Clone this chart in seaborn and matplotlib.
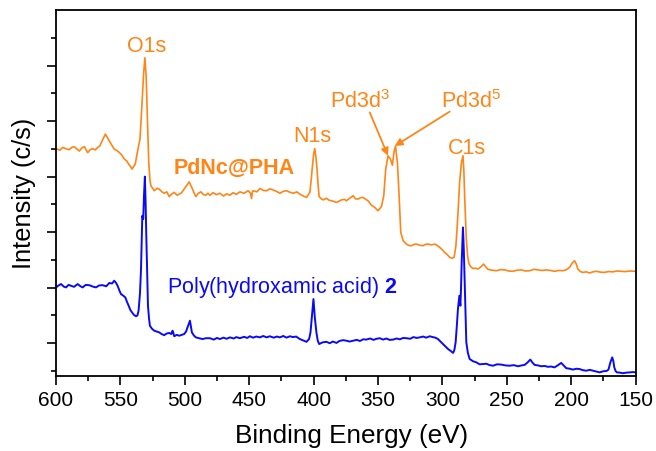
import numpy as np
import pandas as pd
import matplotlib
matplotlib.use("Agg")
import matplotlib.pyplot as plt
import seaborn as sns
from matplotlib.ticker import MultipleLocator

# ---------------- data ----------------
pha_pd_energy = [600, 597, 594.8, 592, 589.7, 587.5, 585.8, 583.5, 581.9, 580, 578, 576.5, 575.4, 573.5,
                 571.5, 569.5, 567.7, 566, 565.1, 563, 561.7, 560, 558.6, 556.5, 554.8, 552.5, 550.9, 549,
                 547, 545, 543.6, 542, 541, 539.5, 538.5, 537.5, 536.6, 534.8, 533.5, 532, 531, 530, 529,
                 528, 527, 526.3, 524.5, 523.7, 521.5, 519.9, 518, 516, 514, 512.1, 510, 508.2, 506, 504.3,
                 502.5, 500.5, 498.5, 496.6, 494, 492.5, 491.4, 489.5, 487.5, 485.5, 483.6, 482, 480.5, 478,
                 475.5, 472.8, 470, 467.5, 465, 462.5, 460, 457.2, 454, 450.8, 449, 448.2, 447.5, 446.9, 444,
                 441.7, 439, 436.5, 434, 431.4, 428.5, 426.2, 423.5, 421, 418.5, 415.9, 413, 410.7, 408,
                 405.5, 402.9, 401.8, 401.1, 400, 399.1, 398.2, 397.3, 396.5, 395.7, 394, 392.6, 390, 388,
                 386.1, 384, 382.2, 380, 378.3, 376, 374.5, 372, 369.3, 367.5, 365.5, 363.5, 361.6, 359.5,
                 357.7, 355.1, 352.5, 350, 348.5, 347.3, 345.5, 344, 342.2, 340.3, 338.8, 337.5, 336.4, 334.9,
                 333.6, 332.3, 330.5, 327.9, 326, 324, 322, 320.2, 317.5, 315, 313, 311.1, 308.5, 305.9, 304,
                 302, 300, 298.2, 296, 294.3, 292.5, 290.9, 289.5, 288.6, 287.5, 286.6, 285.2, 284, 283.3,
                 282.7, 281.4, 280.3, 279.3, 277.8, 276.2, 274.2, 272.4, 270, 268, 266.3, 264.6, 261.5, 258.1,
                 255, 251.6, 248.5, 245.2, 242, 238.7, 235.5, 232.2, 229, 225.8, 222.5, 219.3, 216, 212.9,
                 209.5, 206.4, 203.5, 201.2, 199.3, 197.4, 196, 194.8, 192.8, 190.9, 188.3, 185.7, 183, 180.5,
                 177.3, 174.1, 171, 167.6, 164.5, 161.1, 158, 154.5, 150]
pha_pd_intensity = [8.01, 7.95, 8.05, 8.0, 7.97, 8.06, 8.07, 7.98, 7.92, 8.03, 8.08, 7.95, 7.86, 7.97,
                    8.01, 7.96, 8.05, 8.1, 8.2, 8.4, 8.53, 8.4, 8.28, 8.12, 7.99, 7.93, 7.87, 7.78,
                    7.63, 7.56, 7.45, 7.35, 7.27, 7.38, 7.45, 7.7, 7.93, 8.35, 9.4, 10.7, 11.28, 10.6, 9.0,
                    7.5, 6.85, 6.67, 6.55, 6.49, 6.58, 6.55, 6.46, 6.40, 6.45, 6.28, 6.38, 6.43, 6.33, 6.37,
                    6.42, 6.55, 6.68, 6.81, 6.55, 6.38, 6.28, 6.4, 6.45, 6.35, 6.33, 6.4, 6.33, 6.42,
                    6.35, 6.40, 6.3, 6.38, 6.33, 6.42, 6.36, 6.45, 6.4, 6.49, 6.4, 6.21, 6.45, 6.49, 6.45,
                    6.57, 6.5, 6.49, 6.56, 6.52, 6.46, 6.4, 6.47, 6.49, 6.44, 6.4, 6.45, 6.37, 6.3,
                    6.25, 6.43, 6.9, 7.27, 7.8, 8.01, 7.7, 7.27, 6.7, 6.28, 6.2, 6.16, 6.22, 6.15,
                    6.13, 6.1, 6.07, 6.12, 6.16, 6.18, 6.13, 6.22, 6.31, 6.2, 6.19, 6.24, 6.25, 6.18,
                    6.13, 5.97, 5.89, 5.77, 5.85, 5.92, 6.31, 7.27, 7.75, 7.63, 7.41, 7.9, 8.1, 7.5,
                    6.31, 4.99, 4.69, 4.57, 4.52, 4.51, 4.56, 4.57, 4.53, 4.51, 4.56, 4.57, 4.54, 4.57, 4.52,
                    4.45, 4.36, 4.27, 4.18, 4.09, 4.06, 4.09, 4.5, 5.11, 6.0, 6.8, 7.5, 7.75, 7.2,
                    6.31, 4.75, 4.1, 3.85, 3.75, 3.69, 3.7, 3.67, 3.75, 3.85, 3.75, 3.66, 3.63, 3.61,
                    3.65, 3.64, 3.6, 3.59, 3.63, 3.64, 3.6, 3.61, 3.66, 3.64, 3.62, 3.64, 3.62, 3.59,
                    3.62, 3.61, 3.65, 3.73, 3.88, 3.97, 3.85, 3.67, 3.58, 3.55, 3.57, 3.53, 3.57, 3.59,
                    3.56, 3.55, 3.58, 3.57, 3.6, 3.59, 3.58, 3.6, 3.59]

pha_energy = [600, 598, 596.1, 594, 592.2, 590.3, 588.4, 586, 583.2, 581, 579.3, 577, 574.2, 571.5, 569,
              566.5, 563.8, 561, 558.6, 556.5, 554.8, 553.5, 552.2, 550.8, 549.6, 548, 546.2, 545, 543.6,
              542.3, 541, 539.5, 537.9, 536.8, 535.9, 534.8, 534, 533.4, 533, 532.3, 531.7, 531, 530.4,
              529.9, 529.2, 528.6, 527.8, 527.1, 525.5, 523.7, 521.8, 519.9, 518, 516, 514, 512.1, 510.5,
              509.5, 509, 508.2, 506.3, 504.3, 502.5, 500.5, 499, 497.9, 496, 494.5, 493, 491.4, 489, 486.2,
              483.5, 480.5, 477.5, 475, 472.8, 470, 467.5, 465, 462, 460, 457.2, 454, 451.5, 449.5, 447,
              444.5, 441.7, 439, 436.5, 434, 431, 428.5, 426.2, 423.5, 421, 418.4, 416, 413.5, 410.7, 408,
              405.5, 403.5, 402.4, 401.2, 400.1, 399, 397.8, 396.8, 395.7, 393, 390, 387.5, 385, 382.2, 380,
              377, 374.5, 372, 369.3, 366.5, 364, 361.5, 359.1, 356, 353.5, 351, 348.6, 346, 343.5, 341,
              338.3, 335.5, 333, 330.5, 327.9, 325, 322.5, 320, 317.6, 315, 312.5, 309.8, 307.5, 305.5,
              303.4, 301.5, 299.5, 297.5, 295.6, 293.5, 291.7, 290.7, 289.7, 288.8, 287.9, 286.8, 286,
              285.5, 285, 284, 283.3, 282.7, 282, 281.4, 280.2, 278.8, 276.2, 273.6, 271.1, 268.5, 265.8,
              263.3, 260.7, 257.5, 254.2, 251, 247.8, 244.5, 241.3, 238.5, 236.1, 234, 231.7, 230, 228.4,
              225.8, 223.2, 220.5, 218, 215.5, 212.9, 210.5, 207.7, 205.5, 203.8, 201, 198.6, 196, 193.5,
              191, 188.3, 185.5, 183.1, 180.5, 177.9, 175, 172.5, 171, 169.6, 168.1, 167.2, 166.5, 165.5,
              164.5, 162, 159.9, 157, 154.7, 152, 150]
pha_intensity = [3.01, 3.08, 3.13, 3.04, 3.01, 3.1, 3.07, 3.03, 3.13, 3.05, 3.01, 3.1, 3.09, 3.04, 3.01,
                 3.08, 3.09, 3.05, 3.17, 3.15, 3.25, 3.18, 3.07, 2.9, 2.77, 2.72, 2.65, 2.5, 2.35,
                 2.2, 2.11, 2.02, 1.97, 2.0, 2.17, 2.8, 3.67, 4.8, 5.59, 5.47, 6.3, 7.0, 6.0,
                 4.87, 3.5, 2.35, 1.9, 1.63, 1.52, 1.45, 1.42, 1.39, 1.33, 1.29, 1.35, 1.37, 1.33,
                 1.45, 1.39, 1.25, 1.3, 1.27, 1.3, 1.33, 1.42, 1.57, 1.81, 1.39, 1.28, 1.21, 1.18, 1.15,
                 1.18, 1.18, 1.13, 1.19, 1.15, 1.2, 1.16, 1.21, 1.17, 1.22, 1.18, 1.23, 1.19, 1.25, 1.2,
                 1.24, 1.21, 1.26, 1.21, 1.25, 1.2, 1.24, 1.21, 1.26, 1.2, 1.25, 1.22, 1.24, 1.15, 1.1,
                 1.05, 1.15, 1.39, 2.0, 2.59, 1.9, 1.39, 1.1, 0.97, 1.03, 1.05, 1.0, 1.06, 1.01, 1.08,
                 1.11, 1.09, 1.06, 1.09, 1.12, 1.08, 1.14, 1.13, 1.17, 1.12, 1.16, 1.18, 1.13, 1.17, 1.12,
                 1.13, 1.17, 1.14, 1.19, 1.18, 1.16, 1.22, 1.19, 1.21, 1.24, 1.2, 1.25, 1.22, 1.2,
                 1.15, 1.06, 0.97, 0.88, 0.79, 0.72, 0.65, 0.75, 1.03, 1.6, 2.23, 2.71, 2.35,
                 3.0, 3.91, 5.17, 4.3, 3.31, 2.1, 1.03, 0.65, 0.43, 0.35, 0.31, 0.24, 0.25, 0.26,
                 0.21, 0.19, 0.24, 0.23, 0.2, 0.19, 0.21, 0.17, 0.2, 0.22, 0.3, 0.41, 0.3, 0.22,
                 0.2, 0.17, 0.18, 0.15, 0.16, 0.13, 0.2, 0.29, 0.18, 0.1, 0.08, 0.05, 0.08, 0.07,
                 0.03, 0.01, 0.04, 0.01, -0.02, -0.05, -0.01, 0.0, 0.05, 0.3, 0.49, 0.35, 0.13, 0.0,
                 -0.05, -0.06, -0.08, -0.06, -0.05, -0.04, -0.05]

x_ticks = [600, 550, 500, 450, 400, 350, 300, 250, 200, 150]

ORANGE = "#FF8517"
BLUE = "#0A0AF5"

# ---------------- style ----------------
sns.set_style("ticks")
plt.rcParams["font.family"] = ["Liberation Sans", "DejaVu Sans"]
plt.rcParams["mathtext.fontset"] = "custom"
plt.rcParams["mathtext.rm"] = "Liberation Sans"
plt.rcParams["mathtext.bf"] = "Liberation Sans:bold"
plt.rcParams["mathtext.it"] = "Liberation Sans:italic"
plt.rcParams["text.color"] = "black"
plt.rcParams["axes.labelcolor"] = "black"
plt.rcParams["xtick.color"] = "black"
plt.rcParams["ytick.color"] = "black"

fig = plt.figure(figsize=(6.56, 4.52), dpi=100)
ax = fig.add_axes([0.0854, 0.1666, 0.9688 - 0.0854, 0.9757 - 0.1666])

df_pd = pd.DataFrame({"E": pha_pd_energy, "I": pha_pd_intensity})
df_pha = pd.DataFrame({"E": pha_energy, "I": pha_intensity})

sns.lineplot(data=df_pha, x="E", y="I", ax=ax, color=BLUE, lw=1.4, sort=False, estimator=None)
sns.lineplot(data=df_pd, x="E", y="I", ax=ax, color=ORANGE, lw=1.2, sort=False, estimator=None)

ax.set_xlim(600, 150)
ax.set_ylim(-0.17, 13.0)
ax.set_xticks(x_ticks)
ax.xaxis.set_minor_locator(MultipleLocator(25))
ax.set_yticks([1, 3, 5, 7, 9, 11])
ax.set_yticks([0, 2, 4, 6, 8, 10, 12], minor=True)
ax.set_yticklabels([])

for s in ax.spines.values():
    s.set_visible(True)
    s.set_linewidth(1.3)
    s.set_color("black")

ax.tick_params(axis="both", which="major", direction="out", length=6.5, width=1.2,
               labelsize=15, pad=4, colors="black", labelcolor="black")
ax.tick_params(axis="both", which="minor", direction="out", length=3.3, width=1.2, colors="black")
ax.tick_params(axis="x", which="both", top=False)
ax.tick_params(axis="y", which="both", right=False)

ax.set_xlabel("Binding Energy (eV)", fontsize=18.8, color="black")
ax.set_ylabel("Intensity (c/s)", fontsize=18.3, color="black")
ax.xaxis.set_label_coords(0.51, -0.13)
ax.yaxis.set_label_coords(-0.034, 0.502)

fs = 15.5
ax.text(529.4, 11.52, "O1s", color=ORANGE, fontsize=fs, ha="center", va="baseline")
ax.text(461.9, 7.15, "PdNc@PHA", color=ORANGE, fontsize=fs, ha="center", va="baseline",
        fontweight="bold")
ax.text(401.0, 8.28, "N1s", color=ORANGE, fontsize=fs, ha="center", va="baseline")
ax.text(387.4, 9.51, r"Pd3d$^{3}$", color=ORANGE, fontsize=fs, ha="left", va="baseline")
ax.text(300.75, 9.51, r"Pd3d$^{5}$", color=ORANGE, fontsize=fs, ha="left", va="baseline")
ax.text(280.8, 7.84, "C1s", color=ORANGE, fontsize=fs, ha="center", va="baseline")
ax.text(513.9, 2.85, r"Poly(hydroxamic acid) $\mathbf{2}$", color=BLUE, fontsize=fs,
        ha="left", va="baseline")

arrow_kw = dict(arrowstyle="-|>", color=ORANGE, lw=1.3, mutation_scale=11,
                shrinkA=0, shrinkB=0)
ax.annotate("", xy=(342.2, 7.75), xytext=(356.4, 9.31), arrowprops=arrow_kw)
ax.annotate("", xy=(337.0, 8.1), xytext=(294.3, 9.34), arrowprops=arrow_kw)

if ax.get_legend() is not None:
    ax.get_legend().remove()

fig.savefig("out.png", dpi=100)
